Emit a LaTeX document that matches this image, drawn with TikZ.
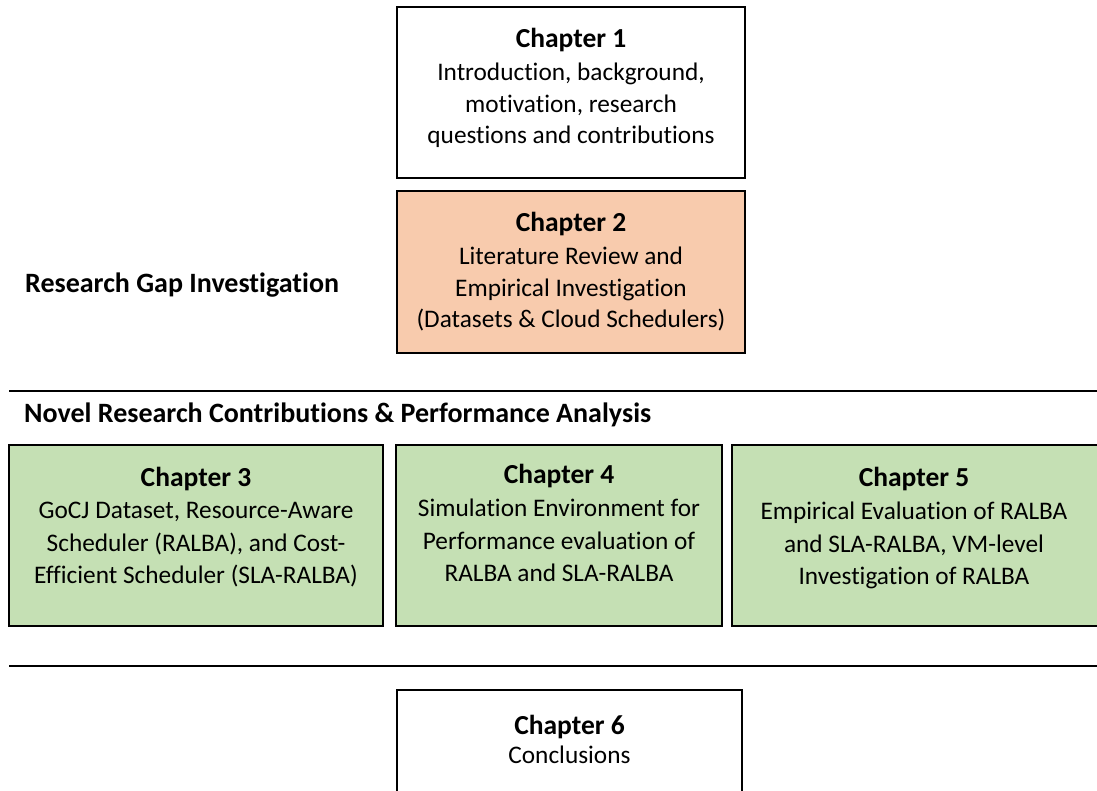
\documentclass[tikz,border=0pt]{standalone}
\usepackage{fontspec}
\setmainfont[Ligatures=NoCommon]{Carlito}
\definecolor{peach}{HTML}{F8CBAD}
\definecolor{sage}{HTML}{C5E0B4}
\begin{document}
\begin{tikzpicture}[x=1pt,y=-1pt,
  box/.style={draw=black, line width=1.6pt, inner sep=0, minimum width=#1},
  ttl/.style={font=\bfseries\fontsize{27.5}{33}\selectfont, inner sep=0, anchor=base},
  bodytop/.style={font=\fontsize{25.3}{31.5}\selectfont, align=center, inner sep=0, anchor=north},
  bodyrow/.style={font=\fontsize{25.3}{32.5}\selectfont, align=center, inner sep=0, anchor=north},
  sep/.style={line width=2pt, draw=black},
  head/.style={font=\bfseries\fontsize{28}{33}\selectfont, inner sep=0, anchor=base west}]
\useasboundingbox (0,0) rectangle (1097,790);
% top boxes
\node[box=348pt, minimum height=171pt, fill=white] (b1) at (571,92.5) {};
\node[box=348pt, minimum height=162pt, fill=peach] (b2) at (571,272) {};
\node[ttl] (t1) at (571,47) {Chapter 1};
\node[bodytop] (x1) at (571,63) {Introduction, background,\\motivation, research\\questions and contributions};
\node[ttl] (t2) at (571,231) {Chapter 2};
\node[bodytop] (x2) at (571,247) {Literature Review and\\Empirical Investigation\\(Datasets \& Cloud Schedulers)};
\node[head] (gap) at (25,292) {Research Gap Investigation};
% separator 1
\coordinate (s1a) at (9,391);
\coordinate (s1b) at (1097,391);
\draw[sep] (s1a) -- (s1b);
\node[head] (novel) at (24,422) {Novel Research Contributions \& Performance Analysis};
% row boxes
\node[box=374pt, minimum height=181pt, fill=sage] (b3) at (196,535.5) {};
\node[box=326pt, minimum height=181pt, fill=sage] (b4) at (559,535.5) {};
\node[box=370pt, minimum height=181pt, fill=sage] (b5) at (917,535.5) {};
\node[ttl] (t3) at (196,486) {Chapter 3};
\node[bodyrow] (x3) at (196,502) {GoCJ Dataset, Resource-Aware\\Scheduler (RALBA), and Cost-\\Efficient Scheduler (SLA-RALBA)};
\node[ttl] (t4) at (559,483) {Chapter 4};
\node[bodyrow] (x4) at (559,499) {Simulation Environment for\\Performance evaluation of\\RALBA and SLA-RALBA};
\node[ttl] (t5) at (914,486) {Chapter 5};
\node[bodyrow] (x5) at (914,502) {Empirical Evaluation of RALBA\\and SLA-RALBA, VM-level\\Investigation of RALBA};
% separator 2
\coordinate (s2a) at (9,666);
\coordinate (s2b) at (1097,666);
\draw[sep] (s2a) -- (s2b);
% bottom box
\node[box=345pt, minimum height=120pt, fill=white] (b6) at (569.5,750) {};
\node[ttl] (t6) at (569.5,734) {Chapter 6};
\node[font=\fontsize{25.3}{31.5}\selectfont, inner sep=0, anchor=base] (x6) at (569.5,763) {Conclusions};
\end{tikzpicture}
\end{document}
